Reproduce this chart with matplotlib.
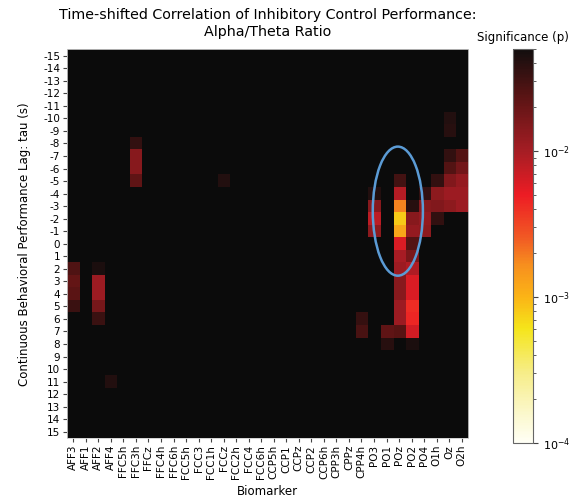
import numpy as np
import matplotlib
matplotlib.use("Agg")
import matplotlib.pyplot as plt
from matplotlib.colors import LogNorm, LinearSegmentedColormap
from matplotlib.patches import Ellipse

biomarkers = ["AFF3", "AFF1", "AFF2", "AFF4", "FFC5h", "FFC3h", "FFCz", "FFC4h",
              "FFC6h", "FCC5h", "FCC3", "FCC1h", "FCCz", "FCC2h", "FCC4", "FCC6h",
              "CCP5h", "CCP1", "CCPz", "CCP2", "CCP6h", "CPP3h", "CPPz", "CPP4h",
              "PO3", "PO1", "POz", "PO2", "PO4", "O1h", "Oz", "O2h"]
taus = list(range(-15, 16))

# significant cells: biomarker, lag, p-value (all other cells are non-significant)
sig_biomarker = (["FFC3h"] * 4 + ["FCCz"] + ["AFF3"] * 4 + ["AFF2"] * 5 + ["AFF4"]
                 + ["CPP4h"] * 2 + ["PO3"] * 4 + ["PO1"] * 2 + ["POz"] * 13
                 + ["PO2"] * 12 + ["PO4"] * 4 + ["O1h"] * 4 + ["Oz"] * 7 + ["O2h"] * 5)
sig_tau = ([-8, -7, -6, -5] + [-5] + [2, 3, 4, 5] + [2, 3, 4, 5, 6] + [11]
           + [6, 7] + [-4, -3, -2, -1] + [7, 8]
           + [-5, -4, -3, -2, -1, 0, 1, 2, 3, 4, 5, 6, 7]
           + [-3, -2, -1, 0, 1, 2, 3, 4, 5, 6, 7, 8]
           + [-4, -3, -2, -1] + [-5, -4, -3, -2]
           + [-10, -9, -7, -6, -5, -4, -3] + [-7, -6, -5, -4, -3])
sig_p = ([0.035, 0.014, 0.014, 0.022] + [0.042]
         + [0.026, 0.021, 0.023, 0.033] + [0.045, 0.011, 0.011, 0.017, 0.033]
         + [0.042] + [0.034, 0.028] + [0.042, 0.014, 0.008, 0.013] + [0.022, 0.040]
         + [0.030, 0.0085, 0.0018, 0.0008, 0.0012, 0.006, 0.0098, 0.011, 0.014,
            0.014, 0.011, 0.011, 0.024]
         + [0.040, 0.014, 0.012, 0.025, 0.016, 0.009, 0.006, 0.006, 0.0042,
            0.0045, 0.0065, 0.045]
         + [0.035, 0.014, 0.012, 0.013] + [0.035, 0.013, 0.015, 0.035]
         + [0.042, 0.040, 0.035, 0.025, 0.015, 0.011, 0.013]
         + [0.025, 0.018, 0.012, 0.011, 0.011])
nonsig_p = 1.0

data = np.full((len(taus), len(biomarkers)), nonsig_p)
for b, t, p in zip(sig_biomarker, sig_tau, sig_p):
    data[taus.index(t), biomarkers.index(b)] = p

cmap = LinearSegmentedColormap.from_list("hot_muted", [
    (0.00, "#fffff5"), (0.08, "#fbf7c8"), (0.18, "#f6ed86"), (0.29, "#f5e51a"),
    (0.37, "#fbb416"), (0.45, "#f7901e"), (0.52, "#f15a24"), (0.63, "#ed1c24"),
    (0.74, "#a61d24"), (0.88, "#5a1414"), (1.00, "#120e0e")])
cmap.set_over("#0b0b0b")
norm = LogNorm(vmin=1e-4, vmax=0.05)

fig = plt.figure(figsize=(5.84, 5.04), dpi=100)
ax = fig.add_axes([0.1147, 0.131, 0.6867, 0.7708])
cax = fig.add_axes([0.878, 0.121, 0.035, 0.782])

im = ax.imshow(data, cmap=cmap, norm=norm, aspect="auto", interpolation="nearest",
               extent=(-0.5, len(biomarkers) - 0.5, taus[-1] + 0.5, taus[0] - 0.5))

ax.set_xticks(range(len(biomarkers)))
ax.set_xticklabels(biomarkers, rotation=90, fontsize=7.5)
ax.set_yticks(taus)
ax.set_yticklabels([str(t) for t in taus], fontsize=7.5)
ax.tick_params(length=3, color="#444444", pad=2)
for s in ax.spines.values():
    s.set_color("#cccccc")
    s.set_linewidth(0.6)

ax.set_xlabel("Biomarker", fontsize=8.5, labelpad=4)
ax.set_ylabel("Continuous Behavioral Performance Lag: tau (s)", fontsize=8.5, labelpad=9)
ax.set_title("Time-shifted Correlation of Inhibitory Control Performance:\nAlpha/Theta Ratio",
             fontsize=10.3, pad=10)

ax.add_patch(Ellipse((biomarkers.index("POz") - 0.1, -2.6), 4.0, 10.3,
                     fill=False, edgecolor="#5b9bd5", linewidth=1.8))

cb = fig.colorbar(im, cax=cax)
cb.outline.set_edgecolor("#666666")
cb.outline.set_linewidth(0.8)
cax.tick_params(labelsize=8, color="#444444")
cax.tick_params(which="minor", color="#444444")
cax.set_title("Significance (p)", fontsize=8.5, pad=6)

fig.savefig("out.png", dpi=100)
